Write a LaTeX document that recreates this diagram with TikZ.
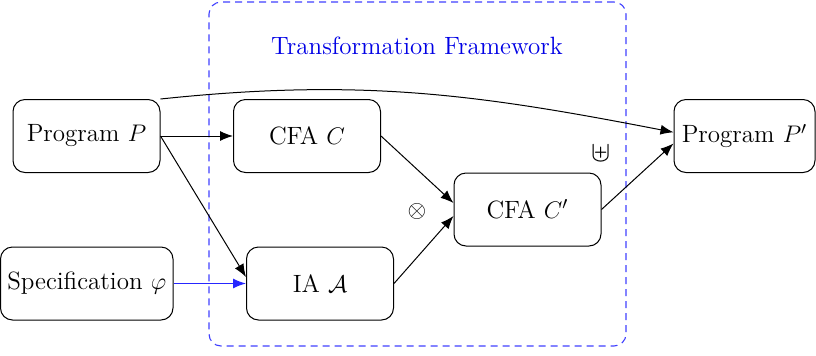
\documentclass[tikz,border=0pt]{standalone}
\usetikzlibrary{arrows.meta}
\begin{document}
\begin{tikzpicture}[x=0.5pt,y=-0.5pt,
  box/.style={draw, line width=0.5pt, rounded corners=6pt, minimum width=73.5pt, minimum height=36.5pt,
    inner sep=0pt, font=\fontsize{12.5}{14}\selectfont},
  arr/.style={line width=0.5pt, -{Latex[length=6.5pt,width=5pt]}},
  frame/.style={draw=blue!75, dash pattern=on 3.5pt off 2.5pt, line width=0.55pt, rounded corners=6pt},
  lbl/.style={inner sep=0pt}]
\useasboundingbox (0,0) rectangle (816,355);
% framework frame
\node[frame, minimum width=208.5pt, minimum height=172pt] (fw) at (417.5,174) {};
\node[lbl, text=blue!90!black, font=\fontsize{12.5}{14}\selectfont] (title) at (417,46) {Transformation Framework};
% nodes
\node[box] (P) at (86.5,136) {Program $P$};
\node[box] (C) at (307,136) {CFA $C$};
\node[box, minimum width=86.25pt] (S) at (86.75,283.5) {Specification $\varphi$};
\node[box] (IA) at (320,283.5) {IA $\mathcal{A}$};
\node[box] (Cp) at (527.5,209.5) {CFA $C'$};
\node[box, minimum width=70.5pt] (Pp) at (744.5,136) {Program $P'$};
\node[lbl, font=\fontsize{12}{14}\selectfont] (ot) at (417,211) {$\otimes$};
\node[lbl, font=\fontsize{14}{16}\selectfont] (up) at (601,153) {$\uplus$};
% connectors
\draw[arr] (P.east) -- (C.west);
\draw[arr] (P.east) -- (IA.175);
\draw[arr, draw=blue!85, fill=blue!85, line width=0.6pt] (S.east) -- (IA.west);
\draw[arr] (C.east) -- (Cp.175);
\draw[arr] (IA.east) -- (Cp.185);
\draw[arr] (Cp.east) -- (Pp.186);
\draw[arr] (P.north east) to[out=6, in=169] (Pp.177);
\end{tikzpicture}
\end{document}
